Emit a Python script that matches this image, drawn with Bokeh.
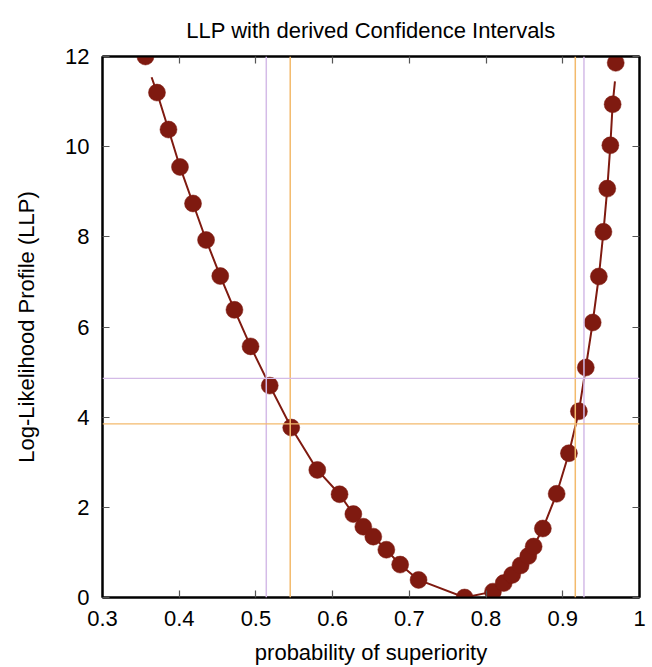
from bokeh.plotting import figure
from bokeh.models import LinearAxis, FixedTicker, NumeralTickFormatter, Span
from bokeh.embed import file_html
from bokeh.resources import INLINE

# ---- data ----
prob = [0.356, 0.371, 0.386, 0.401, 0.418, 0.435, 0.4535, 0.472, 0.493, 0.518,
        0.546, 0.580, 0.609, 0.627, 0.640, 0.653, 0.670, 0.688, 0.712, 0.772,
        0.809, 0.823, 0.834, 0.845, 0.855, 0.862, 0.874, 0.892, 0.908, 0.921,
        0.930, 0.939, 0.947, 0.953, 0.958, 0.962, 0.965, 0.969]
llp = [12.0, 11.2, 10.38, 9.55, 8.74, 7.93, 7.13, 6.38, 5.57, 4.70,
       3.77, 2.83, 2.29, 1.85, 1.57, 1.35, 1.06, 0.73, 0.39, 0.0,
       0.13, 0.32, 0.50, 0.71, 0.92, 1.13, 1.53, 2.30, 3.20, 4.13,
       5.10, 6.10, 7.12, 8.11, 9.07, 10.03, 10.94, 11.86]
curve_start = (0.364, 11.54)
curve_end = (0.968, 11.45)

ci_orange_x = [0.5447, 0.9163]
ci_orange_y = 3.85
ci_purple_x = [0.5135, 0.9276]
ci_purple_y = 4.86

x_ticks = [0.3, 0.4, 0.5, 0.6, 0.7, 0.8, 0.9, 1.0]
y_ticks = [0, 2, 4, 6, 8, 10, 12]

title = "LLP with derived Confidence Intervals"
x_label = "probability of superiority"
y_label = "Log-Likelihood Profile (LLP)"

FONT = "Liberation Sans"
DARK_RED = "#7f1a10"
ORANGE = "#f3ba6c"
PURPLE = "#d4bbe7"

p = figure(width=652, height=667, x_range=(0.3, 1.0), y_range=(0, 12),
           output_backend="svg", toolbar_location=None,
           min_border_left=102, min_border_right=13,
           min_border_top=56, min_border_bottom=68,
           title=title)
p.background_fill_color = "white"
p.border_fill_color = "white"
p.outline_line_color = "black"
p.outline_line_width = 2
p.grid.visible = False

p.title.text_font = FONT
p.title.text_font_size = "22px"
p.title.text_font_style = "normal"
p.title.align = "center"
p.title.text_color = "black"
p.title.standoff = 28

def style_axis(ax, ticks, show_labels):
    ax.ticker = FixedTicker(ticks=ticks)
    ax.major_tick_in = 7
    ax.major_tick_out = 0
    ax.minor_tick_in = 0
    ax.minor_tick_out = 0
    ax.major_tick_line_color = "#555555"
    ax.major_tick_line_width = 1.2
    ax.axis_line_color = "black"
    ax.axis_line_width = 2
    ax.major_label_text_font = FONT
    ax.major_label_text_color = "black"
    if show_labels:
        ax.major_label_text_font_size = "22px"
    else:
        ax.major_label_overrides = {t: "" for t in ticks}
        ax.major_label_text_font_size = "1px"
        ax.major_label_standoff = 0

style_axis(p.xaxis[0], x_ticks, True)
style_axis(p.yaxis[0], y_ticks, True)
p.xaxis[0].formatter = NumeralTickFormatter(format="0.[0]")
p.xaxis[0].major_label_standoff = 13
p.yaxis[0].major_label_standoff = 13

p.xaxis[0].axis_label = x_label
p.yaxis[0].axis_label = y_label
for ax in (p.xaxis[0], p.yaxis[0]):
    ax.axis_label_text_font = FONT
    ax.axis_label_text_font_size = "22px"
    ax.axis_label_text_font_style = "normal"
    ax.axis_label_text_color = "black"
p.xaxis[0].axis_label_standoff = 11
p.yaxis[0].axis_label_standoff = 23

top_ax = LinearAxis()
right_ax = LinearAxis()
style_axis(top_ax, x_ticks, False)
style_axis(right_ax, y_ticks, False)
p.add_layout(top_ax, "above")
p.add_layout(right_ax, "right")

for xv in ci_purple_x:
    p.add_layout(Span(location=xv, dimension="height", line_color=PURPLE, line_width=1.5))
for xv in ci_orange_x:
    p.add_layout(Span(location=xv, dimension="height", line_color=ORANGE, line_width=1.5))
p.add_layout(Span(location=ci_purple_y, dimension="width", line_color=PURPLE, line_width=1.3))
p.add_layout(Span(location=ci_orange_y, dimension="width", line_color=ORANGE, line_width=1.3))

curve_x = [curve_start[0]] + prob[1:-1] + [curve_end[0]]
curve_y = [curve_start[1]] + llp[1:-1] + [curve_end[1]]
p.line(curve_x, curve_y, line_color=DARK_RED, line_width=2)
p.scatter(prob, llp, size=17, fill_color=DARK_RED, line_color=DARK_RED, line_width=0.5)

open("out.html", "w").write(file_html(p, INLINE))
